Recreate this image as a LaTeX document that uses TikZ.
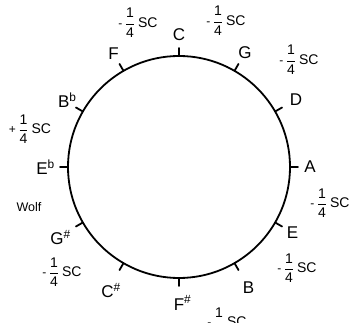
\documentclass[tikz,border=0pt]{standalone}
\usepackage{amsmath}
\usepackage{fontspec}
\setmainfont{Liberation Sans}
\newcommand{\Rad}{111}
\newcommand{\TickLen}{8}
\newcommand{\Rim}{1.8pt}
\newcommand{\NoteSize}{\fontsize{17}{19}\selectfont}
\newcommand{\NoteSup}[2]{#1\rlap{\textsuperscript{#2}}}
\newcommand{\Comma}[1]{{\fontsize{12}{14}\selectfont#1}\hspace{2.5pt}$\dfrac{\text{1}}{\text{4}}$\hspace{3pt}SC}
\definecolor{ink}{HTML}{000000}

\begin{document}
\begin{tikzpicture}[x=1pt,y=1pt, line join=round, line cap=round]
  \useasboundingbox (0,0) rectangle (353,323);
  \coordinate (hub) at (179,156);

  % ---- the ring -----------------------------------------------------------
  \draw[ink,line width=\Rim] (hub) circle[radius=\Rad pt];

  % ---- ticks and note names, going round by fifths ------------------------
  \begin{scope}[shift={(hub)}]
    \foreach \i/\ang/\r/\name in {0/90/132/C, 1/60/132/G, 2/30/135/D, 3/0/131/A,
        4/-30/131/E, 5/-60/139/B, 6/-90/136/{\NoteSup{F}{\#}},
        7/-120/143/{\NoteSup{C}{\#}}, 8/-150/141/{\NoteSup{G}{\#}},
        9/180/137/{\NoteSup{E}{b}}, 10/150/133/{\NoteSup{B}{b}}, 11/120/131/F} {
      \draw[ink,line width=\Rim] (\ang:\Rad pt) -- (\ang:\Rad pt+\TickLen pt);
      \node[ink,inner sep=0pt] (note\i) at (\ang:\r pt) {\NoteSize\name};
    }
  \end{scope}

  % ---- tempered fifths: a quarter syntonic comma each ---------------------
  \foreach \j/\x/\y/\sign in {1/138/300/-, 2/226/302/-, 3/299/263/-, 4/330/120/-,
      5/297/55/-, 6/227/1/-, 7/62/51/-, 8/30/194/+} {
    \node[ink,inner sep=0pt,font=\fontsize{14}{16}\selectfont] (comma\j) at (\x,\y) {\Comma{\sign}};
  }
  \node[ink,inner sep=0pt,font=\fontsize{12.5}{14}\selectfont] (wolf) at (29,116) {Wolf};

\end{tikzpicture}
\end{document}
